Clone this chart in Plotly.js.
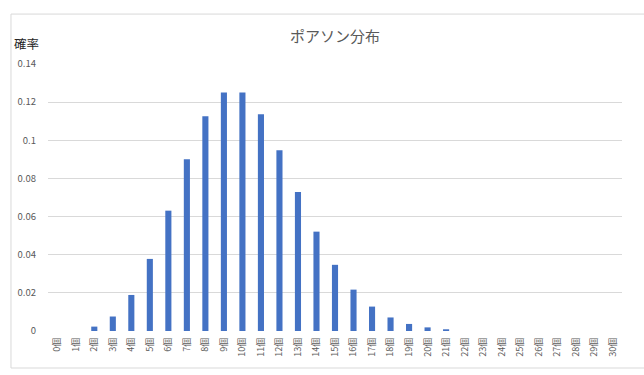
<!DOCTYPE html>
<html>
<head>
<meta charset="utf-8">
<script src="https://cdn.plot.ly/plotly-3.0.1.min.js"></script>
<style>html,body{margin:0;padding:0;background:#fff;}#chart{width:644px;height:375px;}</style>
</head>
<body>
<div id="chart"></div>
<script>
const categories = ["0個","1個","2個","3個","4個","5個","6個","7個","8個","9個","10個","11個","12個","13個","14個","15個","16個","17個","18個","19個","20個","21個","22個","23個","24個","25個","26個","27個","28個","29個","30個"];
const probabilities = [0, 0, 0.0023, 0.0076, 0.0189, 0.0378, 0.0631, 0.0901, 0.1126, 0.1251, 0.1251, 0.1137, 0.0948, 0.0729, 0.0521, 0.0347, 0.0217, 0.0128, 0.0071, 0.0037, 0.0019, 0.0009, 0, 0, 0, 0, 0, 0, 0, 0, 0];
const yTicks = [0, 0.02, 0.04, 0.06, 0.08, 0.1, 0.12, 0.14];
const yTickText = ["0", "0.02", "0.04", "0.06", "0.08", "0.1", "0.12", "0.14"];

const font = "'Noto Sans CJK JP', 'Noto Sans', sans-serif";
const trace = {
  type: 'bar',
  x: categories,
  y: probabilities,
  marker: {color: '#4472C4'},
  hoverinfo: 'x+y'
};
const layout = {
  width: 644, height: 375,
  margin: {l: 48, r: 22, t: 64, b: 44},
  paper_bgcolor: '#ffffff',
  plot_bgcolor: '#ffffff',
  bargap: 0.67,
  showlegend: false,
  font: {family: font, color: '#595959'},
  title: {text: 'ポアソン分布', font: {family: font, size: 15, color: '#595959'}, x: 0.5, xanchor: 'center', y: 0.902, yanchor: 'middle', xref: 'paper'},
  xaxis: {
    type: 'category',
    range: [-0.5, 30.5],
    tickangle: -90,
    tickfont: {family: font, size: 9, color: '#595959'},
    showgrid: false, zeroline: false, showline: false,
    ticks: '', ticklabelstandoff: 4
  },
  yaxis: {
    range: [0, 0.14],
    tickvals: yTicks,
    ticktext: yTickText,
    tickfont: {family: font, size: 9.5, color: '#595959'},
    showgrid: true, gridcolor: '#d9d9d9', gridwidth: 1,
    zeroline: false, showline: false, ticks: '',
    ticklabelstandoff: 11
  },
  annotations: [{
    text: '確率', xref: 'paper', yref: 'paper', x: -0.063, y: 1.075,
    xanchor: 'left', yanchor: 'middle', showarrow: false,
    font: {family: font, size: 12.5, color: '#262626'}
  }],
  shapes: [{
    type: 'rect', xref: 'paper', yref: 'paper',
    x0: -0.0645, x1: 1.1045, y0: -0.1386, y1: 1.187,
    line: {color: '#d9d9d9', width: 1}, fillcolor: 'rgba(0,0,0,0)', layer: 'below'
  }]
};
Plotly.newPlot('chart', [trace], layout, {displayModeBar: false, staticPlot: true});
</script>
</body>
</html>
